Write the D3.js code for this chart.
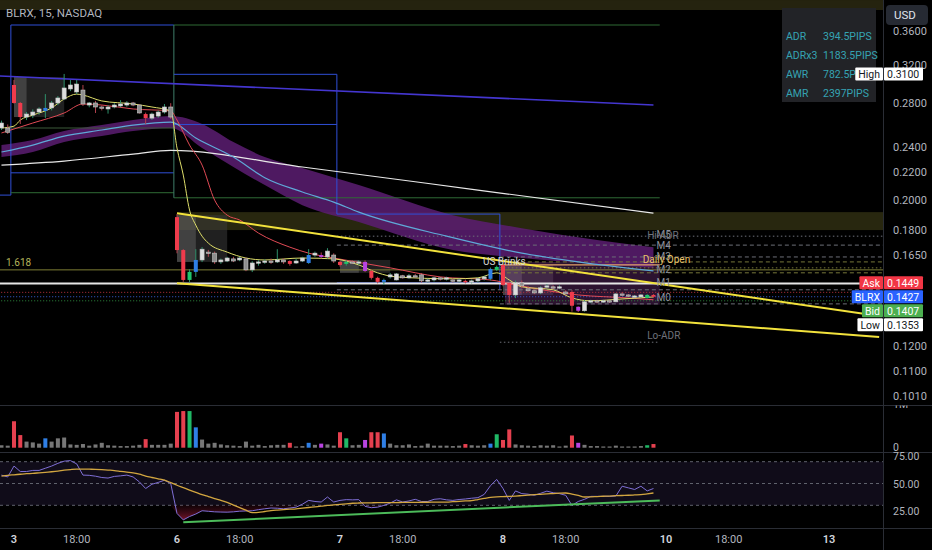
<!DOCTYPE html>
<html>
<head>
<meta charset="utf-8">
<script src="https://cdn.jsdelivr.net/npm/d3@7/dist/d3.min.js"></script>
<style>
html,body{margin:0;padding:0;background:#000;overflow:hidden;}
svg{display:block;font-family:Roboto,"Noto Sans",sans-serif;}
</style>
</head>
<body>
<svg id="chart" width="932" height="550"></svg>
<script>
// ---------------- DATA ----------------
const FIRST_BAR = -2; // bar index of first candle (Jan 2 tail), 26 bars per session
const opens = [
 0.2568,0.2568,
 0.2983,0.2802,0.2668,0.2686,0.2715,0.2725,0.2754,0.2802,0.2841,0.2942,0.2911,0.2931,0.2782,0.2802,0.2763,0.2744,0.2763,0.2773,0.2782,0.2802,0.2782,0.2696,0.2658,0.2677,0.2715,0.2763,
 0.1883,0.1679,0.1513,0.1556,0.1622,0.1667,0.1661,0.1611,0.1616,0.1628,0.1622,0.1628,0.1567,0.1605,0.1611,0.1616,0.1611,0.1622,0.1616,0.1605,0.1616,0.1605,0.1650,0.1650,0.1639,0.1650,
 0.1611,0.1600,0.1611,0.1605,0.1611,0.1561,0.1524,0.1503,0.1529,0.1513,0.1535,0.1524,0.1535,0.1540,0.1508,0.1513,0.1524,0.1519,0.1513,0.1508,0.1508,0.1503,0.1508,0.1519,0.1519,0.1567,
 0.1594,0.1498,0.1436,0.1498,0.1467,0.1457,0.1446,0.1477,0.1477,0.1472,0.1451,0.1451,0.1378,0.1359,0.1402,0.1407,0.1402,0.1407,0.1402,0.1441,0.1436,0.1426,0.1426,0.1421,0.1436];
const highs = [
 0.2635,0.2600,
 0.3035,0.2812,0.2715,0.2740,0.2760,0.2890,0.2822,0.2870,0.3100,0.3035,0.3035,0.2983,0.2812,0.2822,0.2780,0.2780,0.2800,0.2830,0.2820,0.2812,0.2792,0.2710,0.2710,0.2730,0.2792,0.2800,
 0.1903,0.1685,0.1570,0.1684,0.1696,0.1680,0.1670,0.1630,0.1640,0.1640,0.1640,0.1635,0.1615,0.1620,0.1625,0.1630,0.1684,0.1630,0.1620,0.1630,0.1640,0.1684,0.1670,0.1665,0.1690,0.1660,
 0.1620,0.1620,0.1620,0.1620,0.1620,0.1570,0.1530,0.1520,0.1550,0.1550,0.1540,0.1545,0.1545,0.1550,0.1520,0.1530,0.1530,0.1530,0.1520,0.1520,0.1515,0.1515,0.1525,0.1535,0.1580,0.1590,
 0.1600,0.1500,0.1510,0.1510,0.1480,0.1465,0.1480,0.1490,0.1485,0.1485,0.1460,0.1460,0.1380,0.1410,0.1412,0.1412,0.1412,0.1410,0.1446,0.1450,0.1440,0.1436,0.1440,0.1440,0.1440];
const lows = [
 0.2550,0.2515,
 0.2795,0.2604,0.2640,0.2658,0.2690,0.2658,0.2730,0.2780,0.2830,0.2920,0.2890,0.2773,0.2760,0.2706,0.2730,0.2700,0.2750,0.2760,0.2765,0.2770,0.2700,0.2604,0.2640,0.2660,0.2700,0.2650,
 0.1660,0.1503,0.1500,0.1529,0.1610,0.1640,0.1600,0.1600,0.1610,0.1610,0.1615,0.1560,0.1555,0.1590,0.1600,0.1600,0.1605,0.1600,0.1590,0.1600,0.1610,0.1600,0.1640,0.1630,0.1630,0.1605,
 0.1585,0.1590,0.1600,0.1595,0.1555,0.1515,0.1495,0.1487,0.1520,0.1510,0.1520,0.1520,0.1525,0.1500,0.1500,0.1505,0.1510,0.1510,0.1500,0.1500,0.1495,0.1495,0.1500,0.1510,0.1510,0.1560,
 0.1480,0.1397,0.1420,0.1470,0.1450,0.1440,0.1440,0.1470,0.1465,0.1465,0.1435,0.1355,0.1353,0.1355,0.1395,0.1395,0.1397,0.1397,0.1400,0.1430,0.1425,0.1420,0.1420,0.1418,0.1422];
const closes = [
 0.2613,0.2530,
 0.2802,0.2668,0.2696,0.2715,0.2744,0.2754,0.2802,0.2851,0.2952,0.2983,0.2993,0.2792,0.2802,0.2763,0.2754,0.2763,0.2782,0.2792,0.2802,0.2782,0.2706,0.2658,0.2696,0.2715,0.2763,0.2668,
 0.1679,0.1513,0.1556,0.1622,0.1684,0.1661,0.1611,0.1622,0.1633,0.1616,0.1633,0.1567,0.1605,0.1611,0.1616,0.1611,0.1622,0.1611,0.1600,0.1616,0.1633,0.1650,0.1661,0.1639,0.1673,0.1616,
 0.1594,0.1611,0.1605,0.1611,0.1561,0.1524,0.1503,0.1513,0.1540,0.1545,0.1524,0.1535,0.1529,0.1508,0.1513,0.1524,0.1519,0.1524,0.1508,0.1513,0.1503,0.1508,0.1519,0.1529,0.1572,0.1583,
 0.1487,0.1436,0.1498,0.1482,0.1457,0.1446,0.1472,0.1482,0.1472,0.1477,0.1441,0.1383,0.1359,0.1402,0.1407,0.1402,0.1407,0.1402,0.1441,0.1436,0.1431,0.1431,0.1436,0.1436,0.1427];
// candle class: u=up, d=down, r/g/b/p = PVSRA vector candles
const candleKinds = [
 'u','d',
 'r','r','u','u','u','b','u','u','u','u','u','d','u','d','d','u','u','u','u','d','d','r','u','u','u','d',
 'r','r','g','b','u','d','d','u','u','d','u','d','u','u','u','d','u','d','r','u','u','b','u','p','u','d',
 'r','g','d','u','p','r','r','b','u','u','d','u','d','d','u','u','d','u','d','u','r','u','u','u','b','g',
 'r','r','u','d','d','d','u','u','d','u','d','r','p','u','u','d','u','d','u','d','d','u','u','g','r'];
const volumes = [
 0.06,0.05,
 0.65,0.31,0.15,0.13,0.10,0.23,0.15,0.23,0.25,0.08,0.07,0.09,0.05,0.08,0.12,0.06,0.05,0.04,0.04,0.05,0.07,0.21,0.07,0.07,0.07,0.10,
 0.88,0.90,0.90,0.50,0.20,0.10,0.12,0.08,0.06,0.05,0.04,0.15,0.05,0.07,0.04,0.06,0.07,0.07,0.12,0.03,0.04,0.12,0.07,0.10,0.08,0.05,
 0.38,0.23,0.06,0.07,0.19,0.38,0.38,0.35,0.10,0.06,0.06,0.08,0.04,0.05,0.10,0.05,0.05,0.05,0.04,0.05,0.09,0.06,0.05,0.06,0.10,0.33,
 0.19,0.45,0.08,0.06,0.05,0.04,0.06,0.05,0.06,0.03,0.05,0.30,0.12,0.07,0.04,0.04,0.03,0.03,0.05,0.03,0.03,0.03,0.04,0.06,0.09];
const rsiValues = [
 57.7,56,
 66,61,61,62,62,64,66,68.5,70.5,71,68,57.7,57.5,56.7,55.5,55,56.5,57,57.7,56,51.5,45.4,49.3,51,53,50,
 22.5,16.6,19.7,22,25,24.5,24,23.8,23.7,24,24.6,24.8,25,26,26.8,27.5,27.3,26.8,27.5,28.3,31,34.5,33.5,33,37.6,33,
 34.5,35.2,35,35.2,29,27.8,28.3,29.9,32,35,33,34,35.5,33.5,33.5,35.5,36,35,34.5,35.3,35.8,36.5,37,40,48,53.7,
 45.4,34.5,43.2,40.7,40.2,39.2,41,43,41.5,40.7,39.2,29.9,33.5,35.5,38.2,38.2,38.2,38.2,38.5,47.5,46,44.5,47.5,43.2,45.4];
const rsiMaValues = [
 56.7,57.5,
 58,58.5,59,59.3,59.8,60.3,60.8,61.4,62.2,62.8,63.2,63.2,63.1,63,62.7,62.3,61.9,61.2,60.5,59.8,58.5,56.8,55.5,54.3,53,50.8,
 48.4,46.2,44,41.9,39.8,38,36.2,34.5,32.6,30.2,27.8,25.5,23.2,23.5,24.3,25.1,25.6,26,26.4,26.8,27.4,28,28.6,29.2,29.9,30.4,
 30.9,31.4,31.9,32.1,32.2,32.3,32.4,32.4,32.5,32.5,32.6,32.6,32.7,32.8,32.8,32.9,33,33,33.3,33.6,34,34.3,35.3,36.3,37.3,37.8,
 38,38.2,38.5,38.9,39.3,39.8,40.1,40.4,40.8,41.1,41.3,40.2,39,37.6,37.8,38,38.3,38.5,38.8,39,39.2,39.5,39.8,40.5,41.3];
const rsiTrend = [[27,14.4],[103,34.5]];

// moving averages: [bar index, price]
const emaFast = [[-2,0.2568],[0,0.2585],[1,0.2640],[3,0.2686],[6,0.2754],[8,0.2841],[10,0.2890],[11,0.2880],[14,0.2822],[19,0.2792],[22,0.2763],[25,0.2725],[26,0.2395],[27,0.2180],[28,0.1930],[29,0.1831],[30,0.1762],[31,0.1720],[34,0.1667],[37,0.1633],[40,0.1622],[46,0.1633],[51,0.1628],[55,0.1594],[58,0.1551],[61,0.1529],[70,0.1519],[74,0.1524],[77,0.1551],[79,0.1513],[81,0.1477],[86,0.1462],[89,0.1421],[92,0.1407],[97,0.1416],[102,0.1426]];
const emaSlow = [[-2,0.2524],[3,0.2613],[8,0.2706],[11,0.2792],[14,0.2782],[19,0.2744],[25,0.2725],[26,0.2640],[28,0.2420],[30,0.2257],[32,0.1998],[34,0.1896],[36,0.1864],[39,0.1781],[44,0.1696],[47,0.1661],[51,0.1633],[60,0.1578],[68,0.1529],[76,0.1513],[80,0.1487],[90,0.1436],[98,0.1421],[102,0.1412]];
const emaMid = [[-2,0.2362],[3,0.2420],[8,0.2497],[14,0.2550],[19,0.2594],[25,0.2622],[29,0.2480],[35,0.2321],[40,0.2160],[46,0.2055],[51,0.1984],[55,0.1916],[69,0.1762],[81,0.1661],[90,0.1611],[102,0.1561]];
const emaLong = [[-2,0.2257],[8,0.2289],[19,0.2345],[25,0.2375],[46,0.2242],[74,0.2069],[102,0.1909]];
const bandIdx = [-2,3,8,14,19,25,30,35,40,46,55,70,81,93,102];
const bandTop = [0.2420,0.2462,0.2541,0.2594,0.2640,0.2677,0.2604,0.2445,0.2321,0.2234,0.2105,0.1896,0.1812,0.1739,0.1696];
const bandBot = [0.2321,0.2362,0.2445,0.2497,0.2541,0.2568,0.2395,0.2242,0.2105,0.1963,0.1851,0.1679,0.1633,0.1600,0.1578];
const weeklyLine = [[-3,0.3080],[102,0.2782]];
const wedgeUpper = [[26,0.1909],[138,0.1334]];
const wedgeLower = [[26,0.1496],[138,0.1240]];

// levels
const sessionEdges = [-0.5,25.5,51.5,77.5,103];
const prevRangeTop = 0.3676, prevRangeBot = 0.2197, prevRangeLow = 0.2033;
const greenHigh = 0.2568, greenMid = 0.2050, greenLow = 0.2014;
const box2Top = 0.3096, box2Mid = 0.2600, box3Top = 0.1903, box3Bot = 0.1498;
const whiteLevel = 0.1495, fibLevel = 0.1567;
const askPrice = 0.1449, lastPrice = 0.1427, bidPrice = 0.1407, lowPrice = 0.1353, highPrice = 0.3100;
const olivZone = [0.1916,0.1800], topZone = [0.4010,0.3873];
const mLevels = [["M5",0.1775],["M4",0.1708],["M3",0.1639],["M2",0.1567],["M1",0.1498],["M0",0.1421]];
const dailyOpen = 0.1594, loAdr = 0.1218;
const orBoxes = [[0,8,0.3067,0.2668],[26,34,0.1896,0.1611],[52,60,0.1622,0.1551],[78,86,0.1594,0.1436]];
const infoLabels = ["ADR","ADRx3","AWR","AMR"];
const infoValues = ["394.5PIPS","1183.5PIPS","782.5PIPS","2397PIPS"];
const priceTicks = [0.36,0.32,0.28,0.24,0.22,0.20,0.18,0.165,0.12,0.11,0.101];
const dayTicks = [[0,"3"],[26,"6"],[52,"7"],[78,"8"],[104,"10"],[130,"13"]];
const timeTicks = [[10,"18:00"],[36,"18:00"],[62,"18:00"],[88,"18:00"],[114,"18:00"]];
const rsiTicks = [75,50,25];

// ---------------- DRAW ----------------
const W=932,H=550,AX=883;
const svg = d3.select('#chart');
const x = d3.scaleLinear().domain([0,26]).range([14,177]);
const y = d3.scaleLog().domain([0.101,0.36]).range([396,31]);
const yVol = d3.scaleLinear().domain([0,1]).range([447.7,407]);
const yRsi = d3.scaleLinear().domain([30,70]).range([505.3,461.7]);

svg.append('rect').attr('width',W).attr('height',H).attr('fill','#000');
const defs = svg.append('defs');
defs.append('clipPath').attr('id','mc').append('rect').attr('x',0).attr('y',0).attr('width',AX).attr('height',404);
defs.append('clipPath').attr('id','rc').append('rect').attr('x',0).attr('y',453).attr('width',AX).attr('height',74);
defs.append('clipPath').attr('id','vc').append('rect').attr('x',0).attr('y',405.5).attr('width',W).attr('height',46);
const g1 = defs.append('linearGradient').attr('id','osg').attr('gradientUnits','userSpaceOnUse')
  .attr('x1',0).attr('x2',0).attr('y1',yRsi(30)).attr('y2',yRsi(14));
g1.append('stop').attr('offset',0).attr('stop-color','#5a0f22').attr('stop-opacity',0.2);
g1.append('stop').attr('offset',1).attr('stop-color','#9a1a35').attr('stop-opacity',0.95);

const main = svg.append('g').attr('clip-path','url(#mc)');

function hline(g,p,i0,i1,col,w,dash){
  const l=g.append('line').attr('x1',x(i0)).attr('x2',x(i1)).attr('y1',y(p)).attr('y2',y(p))
   .attr('stroke',col).attr('stroke-width',w||1);
  if(dash) l.attr('stroke-dasharray',dash);
  return l;
}
function vline(g,i,p0,p1,col,w){
  g.append('line').attr('x1',x(i)).attr('x2',x(i)).attr('y1',y(p0)).attr('y2',y(p1)).attr('stroke',col).attr('stroke-width',w||1);
}
function prect(g,i0,i1,pt,pb,fill,op){
  g.append('rect').attr('x',x(i0)).attr('width',x(i1)-x(i0)).attr('y',y(pt)).attr('height',y(pb)-y(pt))
   .attr('fill',fill).attr('opacity',op==null?1:op);
}

// zones
prect(main,-3,140,topZone[0],topZone[1],'#25230f');
prect(main,26,140,olivZone[0],olivZone[1],'#28270f');
// opening-range boxes
orBoxes.forEach((b,k)=>{
  prect(main,b[0],b[1],b[2],b[3],'#3a3a3a',0.55);
  prect(main,b[0],b[0]+(k===0?2:3),b[2],b[3],'#6a6a6a',0.45);
});
// pinkish session shading
prect(main,78.3,103,0.1611,0.1388,'#8a3c96',0.32);

// purple band
const bandData = bandIdx.map((i,k)=>({i,t:bandTop[k],b:bandBot[k]}));
main.append('path').datum(bandData)
  .attr('d',d3.area().x(d=>x(d.i)).y0(d=>y(d.b)).y1(d=>y(d.t)).curve(d3.curveMonotoneX))
  .attr('fill','#5c1d72').attr('opacity',0.85);

// session boxes
const BLUE='#2f4fd6', GREEN='#2f6b35';
hline(main,prevRangeTop,sessionEdges[0],sessionEdges[1],BLUE);
hline(main,prevRangeBot,sessionEdges[0],sessionEdges[1],BLUE);
vline(main,sessionEdges[0],prevRangeTop,prevRangeLow,BLUE);
hline(main,prevRangeLow,-3,sessionEdges[0],BLUE);
hline(main,greenHigh,sessionEdges[0],sessionEdges[1],'#3c5a3a');
hline(main,greenMid,sessionEdges[0],sessionEdges[1],GREEN);
hline(main,prevRangeTop,sessionEdges[1],sessionEdges[4],GREEN);
hline(main,greenLow,sessionEdges[1],sessionEdges[4],GREEN);
vline(main,sessionEdges[1],prevRangeTop,greenLow,'#3f7d6a');
hline(main,box2Top,sessionEdges[1],sessionEdges[2],BLUE);
hline(main,box2Mid,sessionEdges[1],sessionEdges[2],BLUE);
vline(main,sessionEdges[2],box2Top,box3Top,BLUE);
hline(main,box3Top,sessionEdges[2],sessionEdges[3],BLUE);
hline(main,box3Bot,sessionEdges[2],sessionEdges[3],BLUE);
vline(main,sessionEdges[3],box3Top,0.1462,BLUE);

// horizontal levels
hline(main,fibLevel,-3,140,'#7d7d35',1);
hline(main,0.1762,51.5,140,'#6d6f78',1,'1.5,2.5');
hline(main,0.1708,51.5,140,'#6d6f78',1,'4,3');
hline(main,0.1639,77.5,140,'#6d6f78',1,'4,3');
hline(main,0.1611,77.5,140,'#77773a',1,'4,3');
hline(main,0.1578,77.5,140,'#77773a',1,'1.5,2.5');
hline(main,0.1551,77.5,140,'#77773a',1,'4,3');
hline(main,0.1462,51.5,140,'#6d6f78',1,'4,3');
hline(main,0.1392,77.5,140,'#6d6f78',1,'4,3');
hline(main,loAdr,77.5,103,'#6d6f78',1,'1.5,2.5');
hline(main,dailyOpen,77.5,103,'#e2a36a',1.3);
hline(main,whiteLevel,-3,140,'#e6e6e6',2);
hline(main,askPrice,-3,140,'#b8303c',1,'1,2');
hline(main,lastPrice,-3,140,'#3a62d8',1,'1,2');
hline(main,bidPrice,-3,140,'#2e8b3e',1,'1,2');

// lines
const kl = d3.line().x(d=>x(d[0])).y(d=>y(d[1])).curve(d3.curveMonotoneX);
const ll = d3.line().x(d=>x(d[0])).y(d=>y(d[1]));
main.append('path').datum(weeklyLine).attr('d',ll).attr('fill','none').attr('stroke','#4436d0').attr('stroke-width',1.6);
main.append('path').datum(emaLong).attr('d',kl).attr('fill','none').attr('stroke','#e8e8e8').attr('stroke-width',1.2);
main.append('path').datum(emaMid).attr('d',kl).attr('fill','none').attr('stroke','#5fa9d8').attr('stroke-width',1.2);
main.append('path').datum(emaSlow).attr('d',kl).attr('fill','none').attr('stroke','#e04a55').attr('stroke-width',1);
main.append('path').datum(emaFast).attr('d',kl).attr('fill','none').attr('stroke','#dede6a').attr('stroke-width',1);
main.append('path').datum(wedgeUpper).attr('d',ll).attr('fill','none').attr('stroke','#f2e23c').attr('stroke-width',2);
main.append('path').datum(wedgeLower).attr('d',ll).attr('fill','none').attr('stroke','#f2e23c').attr('stroke-width',2);

// candles
const bars = closes.map((c,k)=>({i:FIRST_BAR+k,o:opens[k],h:highs[k],l:lows[k],c:c,k:candleKinds[k],v:volumes[k],r:rsiValues[k],m:rsiMaValues[k]}));
const fillOf = {u:'#dedede',d:'#8e8e8e',r:'#ef3b4c',g:'#20c46c',b:'#2f7fe6',p:'#b844e0'};
const volOf = {u:'#777',d:'#777',r:'#e5404f',g:'#20b866',b:'#2f7fe6',p:'#b844e0'};
const bw = (x(1)-x(0))*0.64;
main.append('g').selectAll('line').data(bars).join('line')
  .attr('x1',d=>x(d.i)).attr('x2',d=>x(d.i)).attr('y1',d=>y(d.h)).attr('y2',d=>y(d.l))
  .attr('stroke',d=>d.c>=d.o?'#2e8f6a':'#b0404c').attr('stroke-width',1);
main.append('g').selectAll('rect').data(bars).join('rect')
  .attr('x',d=>x(d.i)-bw/2).attr('width',bw)
  .attr('y',d=>y(Math.max(d.o,d.c))).attr('height',d=>Math.max(1.3,Math.abs(y(d.o)-y(d.c))))
  .attr('fill',d=>fillOf[d.k]).attr('stroke',d=>(d.k==='u'||d.k==='d')?'#c9c9c9':'none').attr('stroke-width',0.6);

// level labels
const lblG = main.append('g').attr('font-size',10);
mLevels.forEach(m=>{
  lblG.append('text').attr('x',x(102.5)).attr('y',y(m[1])+3.5).attr('fill','#8d9099').text(m[0]);
});
lblG.append('text').attr('x',x(101)).attr('y',y(0.1768)+3.5).attr('fill','#6f727b').text('Hi-ADR');
lblG.append('text').attr('x',x(101)).attr('y',y(0.1246)+3.5).attr('fill','#6f727b').text('Lo-ADR');
lblG.append('text').attr('x',x(100.3)).attr('y',y(0.1622)+3.5).attr('fill','#e8c46a').text('Daily Open');
lblG.append('text').attr('x',x(74.8)).attr('y',y(0.1616)+3.5).attr('fill','#d6d6d6').text('US Brinks');
lblG.append('text').attr('x',6).attr('y',y(fibLevel)-4).attr('fill','#b4b45a').text('1.618');

// header
svg.append('text').attr('x',6).attr('y',17).attr('font-size',11.5).attr('fill','#b2b5be').text('BLRX, 15, NASDAQ');

// info table
svg.append('rect').attr('x',782).attr('y',8).attr('width',94).attr('height',94).attr('fill','#222327');
infoLabels.forEach((t,k)=>{
  svg.append('text').attr('x',786).attr('y',40+k*19).attr('font-size',10.5).attr('fill','#35a3b3').text(t);
  svg.append('text').attr('x',823).attr('y',40+k*19).attr('font-size',10.5).attr('fill','#35a3b3').text(infoValues[k]);
});

// right axis
svg.append('rect').attr('x',AX).attr('y',0).attr('width',W-AX).attr('height',H).attr('fill','#000');
svg.append('line').attr('x1',AX+0.5).attr('x2',AX+0.5).attr('y1',0).attr('y2',H).attr('stroke','#2a2d35');
[405,452,528].forEach(v=>svg.append('line').attr('x1',0).attr('x2',W).attr('y1',v+0.5).attr('y2',v+0.5).attr('stroke','#2a2d35'));
const fmt = d3.format('.4f');
svg.append('g').selectAll('text').data(priceTicks).join('text')
  .attr('x',893).attr('y',d=>y(d)+4).attr('font-size',11).attr('fill','#b2b5be').text(d=>fmt(d));
svg.append('rect').attr('x',886).attr('y',5).attr('width',42).attr('height',20).attr('rx',4).attr('fill','#262a33');
svg.append('text').attr('x',894).attr('y',19).attr('font-size',11.5).attr('fill','#e0e3eb').text('USD');

// price tags
function tag(name,price,ty,bg,fg){
  const g=svg.append('g');
  const t=g.append('text').attr('font-size',10.5).attr('fill',fg).attr('y',ty+4).text(name);
  const w=t.node().getComputedTextLength()+6;
  t.attr('x',AX-w+3);
  g.insert('rect','text').attr('x',AX-w).attr('y',ty-6.5).attr('width',w).attr('height',13).attr('fill',bg).attr('rx',1);
  g.append('rect').attr('x',AX+1).attr('y',ty-6.5).attr('width',39).attr('height',13).attr('fill',bg).attr('rx',1);
  g.append('text').attr('x',AX+4).attr('y',ty+4).attr('font-size',10.5).attr('fill',fg).text(fmt(price));
}
const yLast = y(lastPrice);
const yAsk = Math.min(y(askPrice), yLast-14);
const yBid = Math.max(y(bidPrice), yLast+14);
const yLow = Math.max(y(lowPrice), yBid+14);
tag('High',highPrice,y(highPrice),'#ffffff','#131722');
tag('Ask',askPrice,yAsk,'#f23645','#ffffff');
tag('BLRX',lastPrice,yLast,'#2962ff','#ffffff');
tag('Bid',bidPrice,yBid,'#4caf50','#ffffff');
tag('Low',lowPrice,yLow,'#ffffff','#131722');

// volume pane
const vol = svg.append('g').attr('clip-path','url(#vc)');
vol.selectAll('rect').data(bars).join('rect')
  .attr('x',d=>x(d.i)-bw/2).attr('width',bw).attr('y',d=>yVol(d.v)).attr('height',d=>yVol(0)-yVol(d.v))
  .attr('fill',d=>volOf[d.k]);
vol.append('text').attr('x',893).attr('y',yVol(1)+1).attr('font-size',10.5).attr('fill','#b2b5be').text('1M');
svg.append('text').attr('x',893).attr('y',yVol(0)+3).attr('font-size',10.5).attr('fill','#b2b5be').text('0');

// RSI pane
const rg = svg.append('g').attr('clip-path','url(#rc)');
rg.append('rect').attr('x',0).attr('width',AX).attr('y',yRsi(70)).attr('height',yRsi(30)-yRsi(70)).attr('fill','#100c19');
[70,50,30].forEach(v=>rg.append('line').attr('x1',0).attr('x2',AX).attr('y1',yRsi(v)).attr('y2',yRsi(v))
  .attr('stroke','#5f626c').attr('stroke-dasharray','3,3'));
rg.append('path').datum(bars).attr('d',d3.area().x(d=>x(d.i)).y0(yRsi(30)).y1(d=>yRsi(Math.min(d.r,30))))
  .attr('fill','url(#osg)');
rg.append('path').datum(bars).attr('d',d3.line().x(d=>x(d.i)).y(d=>yRsi(d.r))).attr('fill','none').attr('stroke','#7f6fd6').attr('stroke-width',1);
rg.append('path').datum(bars).attr('d',d3.line().x(d=>x(d.i)).y(d=>yRsi(d.m)).curve(d3.curveMonotoneX)).attr('fill','none').attr('stroke','#d2a640').attr('stroke-width',1.3);
rg.append('path').datum(rsiTrend).attr('d',d3.line().x(d=>x(d[0])).y(d=>yRsi(d[1]))).attr('fill','none').attr('stroke','#4cbb5a').attr('stroke-width',2);
svg.append('g').selectAll('text').data(rsiTicks).join('text')
  .attr('x',893).attr('y',d=>yRsi(d)+4).attr('font-size',10.5).attr('fill','#b2b5be').text(d=>d3.format('.2f')(d));

// time axis
svg.append('g').selectAll('text').data(dayTicks).join('text')
  .attr('x',d=>x(d[0])).attr('y',543).attr('text-anchor','middle').attr('font-size',11).attr('font-weight',600)
  .attr('fill','#d1d4dc').text(d=>d[1]);
svg.append('g').selectAll('text').data(timeTicks).join('text')
  .attr('x',d=>x(d[0])).attr('y',543).attr('text-anchor','middle').attr('font-size',11)
  .attr('fill','#b2b5be').text(d=>d[1]);
</script>
</body>
</html>
